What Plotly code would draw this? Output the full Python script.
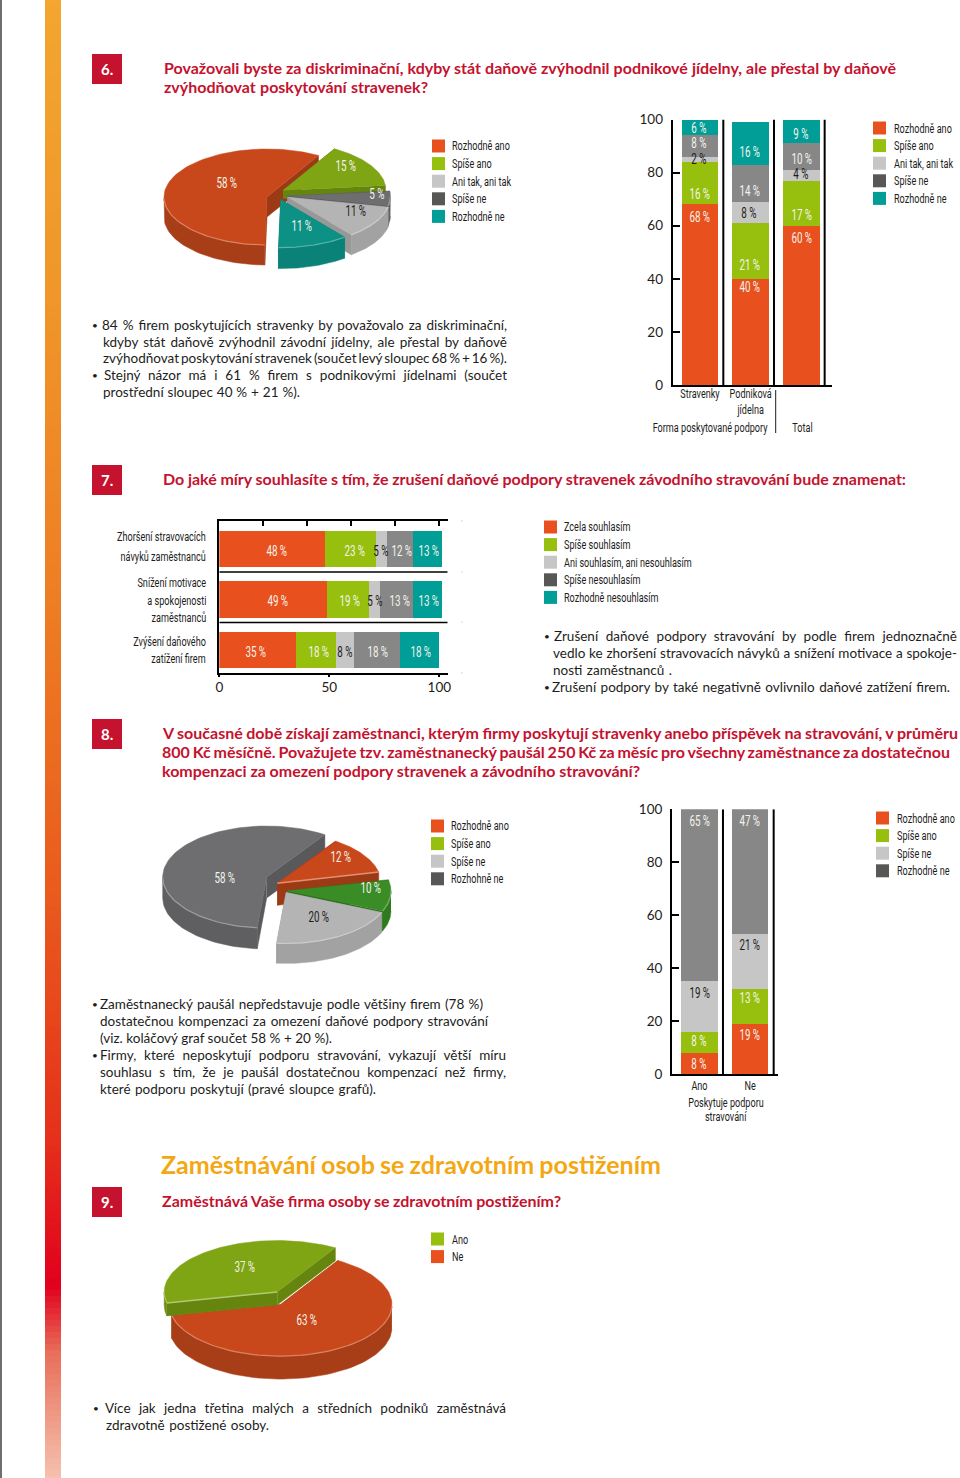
import json
import numpy as np
import plotly.graph_objects as go

W, H = 960, 1478

# ---------- data ----------
q6_form_cats = ["Stravenky", "Podniková<br>jídelna", "Total"]
q6_series = ["Rozhodně ano", "Spíše ano", "Ani tak, ani tak", "Spíše ne", "Rozhodně ne"]
q6_rozhodne_ano = [68, 40, 60]
q6_spise_ano = [16, 21, 17]
q6_ani_tak = [2, 8, 4]
q6_spise_ne = [8, 14, 10]
q6_rozhodne_ne = [6, 16, 9]
q6_pie_shares = [58, 15, 5, 11, 11]

q7_cats = ["Zhoršení", "Snížení", "Zvýšení"]
q7_series = ["Zcela souhlasím", "Spíše souhlasím", "Ani souhlasím, ani nesouhlasím", "Spíše nesouhlasím", "Rozhodně nesouhlasím"]
q7_zcela = [48, 49, 35]
q7_spise = [23, 19, 18]
q7_ani = [5, 5, 8]
q7_spise_ne = [12, 15, 21]
q7_rozhodne_ne = [13, 13, 18]
q7_printed_labels = [[48, 23, 5, 12, 13], [49, 19, 5, 13, 13], [35, 18, 8, 18, 18]]

q8_cats = ["Ano", "Ne"]
q8_series = ["Rozhodně ano", "Spíše ano", "Spíše ne", "Rozhodně ne"]
q8_rozhodne_ano = [8, 19]
q8_spise_ano = [8, 13]
q8_spise_ne = [19, 21]
q8_rozhodne_ne = [65, 47]
q8_pie_shares = [58, 12, 10, 20]
q8_pie_series = ["Rozhodně ano", "Spíše ano", "Spíše ne", "Rozhohně ne"]

q9_series = ["Ano", "Ne"]
q9_pie_shares = [37, 63]

# ---------- style ----------
ORANGE, GREEN, LIGHT, GRAY, TEAL, DARK = "#E8501E", "#97BF0D", "#C6C6C6", "#878787", "#009E97", "#575756"
RED, AMBER = "#C4122F", "#F3A712"
NARROW = "Roboto"
NARROW_SCALE = 0.70
BODY = "Lato"
INK = "#1d1d1b"
PX, PY = (lambda x: x / W), (lambda y: 1 - y / H)

annotations, shapes, traces = [], [], []
fit_widths = {}


def text(x, y, s, size=13, color=INK, font=NARROW, anchor="center", bold=False, fit_to=None):
    annotations.append(dict(x=PX(x), y=PY(y), xref="paper", yref="paper", text=f"<b>{s}</b>" if bold else s,
                            showarrow=False, xanchor=anchor, yanchor="middle", align=anchor,
                            font=dict(size=size, color=color, family=font), borderpad=0, borderwidth=0))
    if fit_to is not None:
        fit_widths[s] = fit_to - x


def rect(x0, y0, x1, y1, color):
    shapes.append(dict(type="rect", xref="paper", yref="paper", x0=PX(x0), x1=PX(x1), y0=PY(y0), y1=PY(y1),
                       fillcolor=color, line=dict(width=0), layer="below"))


# ---------- page decoration ----------
rect(0, 0, 2, H, "#6f6f6f")
STOPS_Y = [0, 300, 600, 900, 1140, 1283, 1350, 1478]
STOPS_C = [(243, 166, 48), (240, 150, 42), (238, 126, 36), (233, 90, 30), (229, 48, 27), (226, 0, 30), (232, 112, 90), (246, 196, 178)]
for y in range(0, H, 6):
    c = [int(np.interp(y, STOPS_Y, [s[i] for s in STOPS_C])) for i in range(3)]
    rect(45, y, 61, y + 6.5, f"rgb({c[0]},{c[1]},{c[2]})")

# ---------- stacked bars ----------
def stacked(xname, yname, cats, series, values, colors, orientation, width):
    for n, v, c in zip(series, values, colors):
        kw = dict(x=cats, y=v) if orientation == "v" else dict(x=v, y=cats)
        traces.append(go.Bar(name=n, marker=dict(color=c, line=dict(width=0)), width=width, orientation=orientation,
                             xaxis=xname, yaxis=yname, showlegend=False, hoverinfo="skip", **kw))


stacked("x", "y", q6_form_cats, q6_series, [q6_rozhodne_ano, q6_spise_ano, q6_ani_tak, q6_spise_ne, q6_rozhodne_ne],
        [ORANGE, GREEN, LIGHT, GRAY, TEAL], "v", 0.72)
stacked("x2", "y2", q7_cats, q7_series, [q7_zcela, q7_spise, q7_ani, q7_spise_ne, q7_rozhodne_ne],
        [ORANGE, GREEN, LIGHT, GRAY, TEAL], "h", 0.717)
stacked("x3", "y3", q8_cats, q8_series, [q8_rozhodne_ano, q8_spise_ano, q8_spise_ne, q8_rozhodne_ne],
        [ORANGE, GREEN, LIGHT, GRAY], "v", 0.72)

# ---------- pseudo-3D pies, angles come from the shares ----------
def blend(hex_c, f):
    r, g, b = [int(hex_c[i:i + 2], 16) for i in (1, 3, 5)]
    t = 255 if f > 0 else 0
    f = abs(f)
    return f"rgb({int(r + (t - r) * f)},{int(g + (t - g) * f)},{int(b + (t - b) * f)})"


def poly(xs, ys, color):
    traces.append(go.Scatter(x=xs, y=ys, mode="lines", fill="toself", fillcolor=color, line=dict(width=0.5, color=color),
                             xaxis="x9", yaxis="y9", showlegend=False, hoverinfo="skip"))


def line(xs, ys, color, w=1.2):
    traces.append(go.Scatter(x=xs, y=ys, mode="lines", line=dict(width=w, color=color),
                             xaxis="x9", yaxis="y9", showlegend=False, hoverinfo="skip"))


def pie(shares, start, geom, colors, order, edge_hl=None):
    edge_hl = edge_hl or {}
    ang = [start]
    for s in shares:
        ang.append(ang[-1] - s * 3.6)
    for i in order:
        vx, vy, rx, ry, d = geom[i]
        top, wall = colors[i]
        t = np.radians(np.linspace(ang[i], ang[i + 1], 90))
        ax, ay = vx + rx * np.cos(t), vy - ry * np.sin(t)
        for k in (0, -1):
            poly([vx, ax[k], ax[k], vx], [vy, ay[k], ay[k] + d, vy + d], blend(wall, -0.06))
        m = np.sin(t) <= 0
        if m.sum() > 1:
            fx, fy = ax[m], ay[m]
            poly(np.r_[fx, fx[::-1]], np.r_[fy, fy[::-1] + d], wall)
        poly(np.r_[vx, ax], np.r_[vy, ay], top)
        if m.sum() > 1:
            line(ax[m], ay[m], blend(top, 0.32))
        if i in edge_hl:
            k = edge_hl[i]
            line([vx, ax[k]], [vy, ay[k]], blend(top, 0.4), 1.5)


C_OR = ("#C9481B", "#A83E18")
C_GR = ("#7FA414", "#6C8E10")
C_LT = ("#B4B4B4", "#A2A2A2")
C_DK = ("#6E6E70", "#5F5F61")
C_TL = ("#0D9185", "#0A8277")
C_DG = ("#3A8C26", "#2F7A1E")

pie(q6_pie_shares, 60 + q6_pie_shares[0] * 3.6,
    [(267, 197, 103, 48, 20), (283, 190.4, 103, 48, 8), (287.4, 196, 103, 48, 20), (287.4, 197.2, 103, 48, 20), (280.6, 199.6, 103, 48, 21)],
    [C_OR, C_GR, C_DK, C_LT, C_TL], [0, 1, 2, 3, 4])
pie(q8_pie_shares, 56 + q8_pie_shares[0] * 3.6,
    [(266.7, 877, 104, 51, 21), (277.3, 883.3, 104, 51, 22), (287, 891, 104, 51, 20), (286, 892.5, 104, 51, 20)],
    [C_DK, C_OR, C_DG, C_LT], [0, 1, 2, 3], edge_hl={1: -1})
pie(q9_pie_shares, 59 + q9_pie_shares[0] * 3.6,
    [(277.2, 1292, 113, 51.5, 13), (280.6, 1304.6, 111.4, 51.5, 23)],
    [C_GR, C_OR], [1, 0], edge_hl={0: 0})

# ---------- text ----------
for y, n in [(69, "6."), (480, "7."), (734, "8."), (1202, "9.")]:
    rect(92, y - 15, 122, y + 15, RED)
    text(107, y, n, 15, "white", BODY, bold=True)

TS = 16
titles = [
    (164, 67.5, 896, "Považovali byste za diskriminační, kdyby stát daňově zvýhodnil podnikové jídelny, ale přestal by daňově"),
    (164, 86.5, 428, "zvýhodňovat poskytování stravenek?"),
    (163, 478.5, 906, "Do jaké míry souhlasíte s tím, že zrušení daňové podpory stravenek závodního stravování bude znamenat:"),
    (162, 732, 957, "V současné době získají zaměstnanci, kterým firmy poskytují stravenky anebo příspěvek na stravování, v průměru"),
    (162, 751, 950, "800 Kč měsíčně. Považujete tzv. zaměstnanecký paušál 250 Kč za měsíc pro všechny zaměstnance za dostatečnou"),
    (162, 770, 640, "kompenzaci za omezení podpory stravenek a závodního stravování?"),
    (162, 1200.5, 561, "Zaměstnává Vaše firma osoby se zdravotním postižením?"),
]
for x, y, x1, s in titles:
    text(x, y, s, TS, RED, BODY, "left", True, fit_to=x1)
text(161, 1163.5, "Zaměstnávání osob se zdravotním postižením", 25, AMBER, BODY, "left", True, fit_to=661)

BS = 13.5
body_lines = [
    (92, 325, None, "•"), (102, 325, 507, "84 % firem poskytujících stravenky by považovalo za diskriminační,"),
    (103, 342, 507, "kdyby stát daňově zvýhodnil závodní jídelny, ale přestal by daňově"),
    (103, 358, 507, "zvýhodňovat poskytování stravenek (součet levý sloupec 68 % + 16 %)."),
    (92, 375, None, "•"), (104, 375, 507, "Stejný názor má i 61 % firem s podnikovými jídelnami (součet"),
    (103, 392, 300, "prostřední sloupec 40 % + 21 %)."),
    (544, 636, None, "•"), (554, 636, 957, "Zrušení daňové podpory stravování by podle firem jednoznačně"),
    (553, 653, 957, "vedlo ke zhoršení stravovacích návyků a snížení motivace a spokoje-"),
    (553, 670, 672, "nosti zaměstnanců ."),
    (544, 687, None, "•"), (552, 687, 950, "Zrušení podpory by také negativně ovlivnilo daňové zatížení firem."),
    (92, 1004, None, "•"), (100, 1004, 483, "Zaměstnanecký paušál nepředstavuje podle většiny firem (78 %)"),
    (100, 1021, 488, "dostatečnou kompenzaci za omezení daňové podpory stravování"),
    (100, 1038, 332, "(viz. koláčový graf součet 58 % + 20 %)."),
    (92, 1055, None, "•"), (100, 1055, 506, "Firmy, které neposkytují podporu stravování, vykazují větší míru"),
    (100, 1072, 506, "souhlasu s tím, že je paušál dostatečnou kompenzací než firmy,"),
    (100, 1089, 376, "které podporu poskytují (pravé sloupce grafů)."),
    (93, 1408, None, "•"), (105, 1408, 506, "Více jak jedna třetina malých a středních podniků zaměstnává"),
    (106, 1425, 269, "zdravotně postižené osoby."),
]
for x, y, x1, s in body_lines:
    text(x, y, s, 10 if s == "•" else BS, INK, BODY, "left", fit_to=x1)

# ---------- legends ----------
def legend(xs, xt, y0, names, colors):
    for i, (n, c) in enumerate(zip(names, colors)):
        y = y0 + i * 17.6
        rect(xs, y - 6.5, xs + 13, y + 6.5, c)
        text(xt, y, n, 13, INK, NARROW, "left")


legend(432, 452, 146, q6_series, [ORANGE, GREEN, LIGHT, DARK, TEAL])
legend(873, 894, 128, q6_series, [ORANGE, GREEN, LIGHT, DARK, TEAL])
legend(544, 564, 527, q7_series, [ORANGE, GREEN, LIGHT, DARK, TEAL])
legend(431, 451, 826, q8_pie_series, [ORANGE, GREEN, LIGHT, DARK])
legend(876, 897, 818, q8_series, [ORANGE, GREEN, LIGHT, DARK])
legend(431, 452, 1239, q9_series, [GREEN, ORANGE])

# ---------- value labels ----------
def pct(x, y, v, dark=False):
    text(x, y, f"{v} %", 14, INK if dark else "#F4F4EC")


for x, col, ys in [(699, 0, (217, 194, 159, 143, 128)), (749, 1, (287, 265, 213, 191, 152)), (801, 2, (238, 215, 174, 159, 134))]:
    vals = [q6_rozhodne_ano[col], q6_spise_ano[col], q6_ani_tak[col], q6_spise_ne[col], q6_rozhodne_ne[col]]
    for i, (v, y) in enumerate(zip(vals, ys)):
        pct(x, y, v, dark=(i == 2))
for y, labs, xs in [(551, q7_printed_labels[0], (276, 354, 381, 401, 428)), (601, q7_printed_labels[1], (277, 349, 375, 399, 428)), (652, q7_printed_labels[2], (255, 318, 345, 377, 420))]:
    for i, (v, x) in enumerate(zip(labs, xs)):
        pct(x, y, v, dark=(i == 2))
for x, col, ys in [(699, 0, (1064, 1041, 993, 821)), (749, 1, (1035, 998, 945, 821))]:
    vals = [q8_rozhodne_ano[col], q8_spise_ano[col], q8_spise_ne[col], q8_rozhodne_ne[col]]
    for i, (v, y) in enumerate(zip(vals, ys)):
        pct(x, y, v, dark=(i == 2))
for x, y, v, d in [(226, 183, 58, 0), (345, 166, 15, 0), (377, 194, 5, 0), (355, 211, 11, 1), (301, 226, 11, 0),
                   (224, 878, 58, 0), (340, 857, 12, 0), (370, 888, 10, 0), (318, 917, 20, 1),
                   (245, 1267, 37, 0), (306, 1320, 63, 0)]:
    pct(x, y, v, dark=bool(d))

# ---------- axis captions ----------
text(710, 427, "Forma poskytované podpory")
text(802, 427, "Total")
text(726, 1102, "Poskytuje podporu")
text(726, 1116, "stravování")
for y, s in [(536, "Zhoršení stravovacích"), (557, "návyků zaměstnanců"), (582, "Snížení motivace"), (600, "a spokojenosti"),
             (617, "zaměstnanců"), (641, "Zvýšení daňového"), (659, "zatížení firem")]:
    text(206, y, s, 13, INK, NARROW, "right")
shapes.append(dict(type="line", xref="paper", yref="paper", x0=PX(775.7), x1=PX(775.7), y0=PY(390), y1=PY(433), line=dict(color=INK, width=1)))
for y in (521, 572, 622, 673):
    rect(461, y - 0.7, 462.5, y + 0.7, "#dddddd")

# axis-bound separators (the bars sit slightly right of / below the centre of their bands)
for xr, yr, xs in [("x", "y", (0.46, 1.46, 2.46)), ("x3", "y3", (0.4635, 1.4635))]:
    for v in xs:
        shapes.append(dict(type="line", xref=xr, yref=yr, x0=v, x1=v, y0=0, y1=100, line=dict(color="black", width=2)))
for v in (0.454, 1.454):
    shapes.append(dict(type="line", xref="x2", yref="y2", x0=0, x1=103.8, y0=v, y1=v, line=dict(color="black", width=1.5)))

fig = go.Figure(traces)
tick_y = dict(range=[0, 100], tickvals=[0, 20, 40, 60, 80, 100], ticks="inside", ticklen=7, tickwidth=1.5, tickcolor="black",
              showline=True, linecolor="black", linewidth=2, showgrid=False, zeroline=False, automargin=False,
              tickfont=dict(family=BODY, size=13.5, color=INK), ticklabelstandoff=5)
base_x = dict(showline=True, linecolor="black", linewidth=2, showgrid=False, zeroline=False, ticks="", automargin=False, tickangle=0,
              tickfont=dict(family=NARROW, size=13, color=INK), type="category")
fig.update_layout(
    template="none",
    width=W, height=H, autosize=False, margin=dict(l=0, r=0, t=0, b=0, pad=0), barmode="stack", plot_bgcolor="rgba(0,0,0,0)", paper_bgcolor="white",
    showlegend=False, annotations=annotations, shapes=shapes,
    xaxis=dict(domain=[PX(672.7), PX(831.7)], range=[-0.539, 2.599], anchor="y", tickvals=q6_form_cats[:2], ticktext=q6_form_cats[:2], ticklabelstandoff=-5, **base_x),
    yaxis=dict(domain=[PY(385), PY(119.5)], anchor="x", **tick_y),
    xaxis2=dict(domain=[PX(219.3), PX(447.7)], range=[0, 103.8], anchor="y2", tickvals=[0, 50, 100], ticks="outside", ticklen=2, tickwidth=1.5, tickcolor="black",
                showline=True, linecolor="black", linewidth=2, showgrid=False, zeroline=False, automargin=False, tickangle=0, ticklabelstandoff=-2,
                tickfont=dict(family=BODY, size=13.5, color=INK)),
    yaxis2=dict(domain=[PY(673.3), PY(521.3)], anchor="x2", type="category", categoryorder="array", categoryarray=q7_cats, range=[2.455, -0.545],
                showticklabels=False, showline=True, linecolor="black", linewidth=2, showgrid=False, zeroline=False, ticks="", automargin=False),
    xaxis4=dict(domain=[PX(219.3), PX(447.7)], range=[0, 103.8], overlaying="x2", side="top", anchor="y2", tickvals=[20, 40, 60, 80, 100],
                ticks="inside", ticklen=5, tickwidth=1.5, tickcolor="black", showticklabels=False, showline=True, linecolor="black", linewidth=2, showgrid=False, zeroline=False, automargin=False),
    xaxis3=dict(domain=[PX(672), PX(777.7)], range=[-0.542, 1.543], anchor="y3", ticklabelstandoff=-2, **base_x),
    yaxis3=dict(domain=[PY(1074), PY(809.3)], anchor="x3", **tick_y),
    xaxis9=dict(domain=[0, 1], range=[0, W], visible=False, fixedrange=True, automargin=False),
    yaxis9=dict(domain=[0, 1], range=[H, 0], visible=False, fixedrange=True, anchor="x9", automargin=False),
)
fig.add_trace(go.Scatter(x=[None], y=[None], xaxis="x4", yaxis="y2", showlegend=False, hoverinfo="skip"))

POST = """
document.body.style.margin='0';document.body.style.overflow='hidden';
var FIT=%s, SCALE=%s;
function tune(){
  document.querySelectorAll('svg text').forEach(function(t){
    if(t.dataset.tuned) return;
    var fam=t.style.fontFamily||'';
    if(fam.indexOf('Roboto')>=0){
      var x=parseFloat(t.getAttribute('x'))||0, old=t.getAttribute('transform')||'';
      t.setAttribute('transform',old+' translate('+x+',0) scale('+SCALE+',1) translate('+(-x)+',0)');
      t.dataset.tuned='1';
    } else if(FIT[t.textContent]!==undefined){
      var n=t.textContent.split(' ').length-1;
      if(n>0){
        var d=(FIT[t.textContent]-t.getComputedTextLength())/n;
        t.style.wordSpacing=d+'px';
      }
      t.dataset.tuned='1';
    }
  });
}
tune(); setTimeout(tune,100); setTimeout(tune,500);
""" % (json.dumps(fit_widths, ensure_ascii=False), NARROW_SCALE)
fig.write_html("out.html", post_script=POST, config=dict(displayModeBar=False, responsive=False))
